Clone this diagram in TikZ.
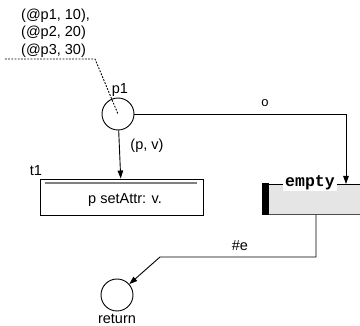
\documentclass[tikz,border=0pt]{standalone}
\usepackage{fontspec}
\setmainfont{Liberation Sans}
\setmonofont{Liberation Mono}
\usetikzlibrary{arrows.meta}
\begin{document}
\begin{tikzpicture}[x=1pt,y=-1pt,
  every node/.style={font=\fontsize{14.5}{17.5}\selectfont, inner sep=0pt},
  place/.style={draw, circle, minimum size=32pt, line width=0.9pt},
  trans/.style={draw, rectangle, minimum width=163pt, minimum height=36pt, line width=0.9pt},
  arc/.style={line width=0.9pt, -{Triangle[length=8pt,width=5.5pt]}},
  plain/.style={line width=0.9pt},
  lbl/.style={font=\fontsize{14.5}{17.5}\selectfont}]
\useasboundingbox (0,0) rectangle (360,326);

% places
\node[place] (p1) at (118,114) {};
\node[lbl] (p1l) at (120,90) {p1};
\node[place] (ret) at (117,295) {};
\node[lbl] (retl) at (117,319) {return};

% initial marking
\node[lbl, anchor=west, align=left] (mark) at (21,33) {(@p1, 10),\\(@p2, 20)\\(@p3, 30)};
\coordinate (d0) at (5,59);
\coordinate (d1) at (95,59);
\draw[line width=0.9pt, dash pattern=on 1.8pt off 1.4pt] (d0) -- (d1) -- (p1.center);

% transition t1
\node[trans] (t1) at (121.5,197) {};
\draw[gray, line width=1.6pt] ([xshift=5pt,yshift=-4.5pt]t1.north west) -- ([xshift=-6pt,yshift=-4.5pt]t1.north east);
\node[lbl] (t1txt) at (125,200) {p setAttr: v.};
\node[lbl] (t1l) at (36,171) {t1};

% empty box
\node[fill=black!10, minimum width=93pt, minimum height=30pt, anchor=north west] (eb) at (269,184) {};
\node[fill=black, minimum width=7pt, minimum height=32pt, anchor=north east] (bar) at (269,183) {};
\draw[plain] (eb.north west) -- (eb.north east);
\draw[black!70, line width=1pt] (eb.south west) -- (eb.south east);
\node[fill=white, inner xsep=2pt, inner ysep=1pt, font=\ttfamily\bfseries\fontsize{16.5}{18}\selectfont] (etxt) at (310,183) {empty};

% arcs
\coordinate (c1) at (346,114);
\coordinate (c1e) at (346,184);
\draw[arc] (p1) -- (c1) -- (c1e);
\node[font=\fontsize{13}{15}\selectfont] (ol) at (265,103) {o};

\draw[arc] (p1) -- (t1);
\node[lbl] (pvl) at (147,146) {(p, v)};

\coordinate (c2) at (316,215);
\coordinate (c3) at (316,257);
\coordinate (c4) at (160,257);
\draw[arc] (c2) -- (c3) -- (c4) -- (ret);
\node[lbl] (el) at (240,246) {\#e};
\end{tikzpicture}
\end{document}
